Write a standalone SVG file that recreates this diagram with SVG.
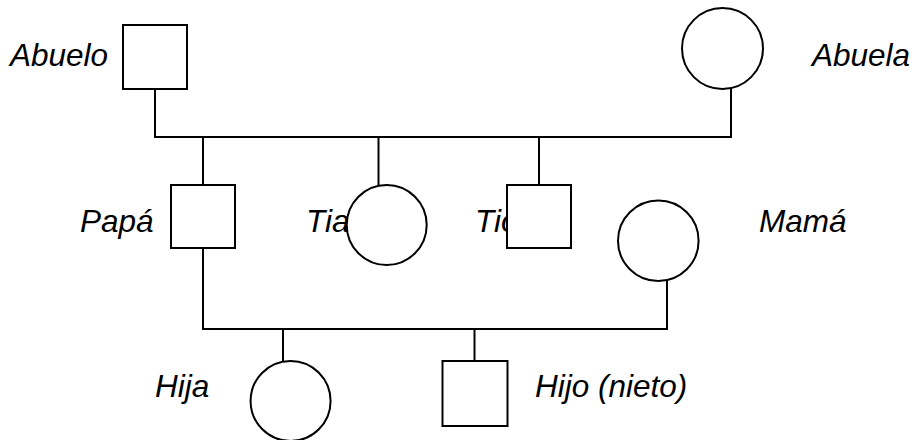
<svg xmlns="http://www.w3.org/2000/svg" width="915" height="440" viewBox="0 0 915 440">
<style>
.shape{fill:#fff;stroke:#000;stroke-width:2}
.conn{fill:none;stroke:#000;stroke-width:2}
.lbl{font-family:"Liberation Sans",Arial,sans-serif;font-style:italic;font-size:31.5px;fill:#000}
</style>
<rect width="915" height="440" fill="#fff"/>
<g id="connectors" class="conn">
<polyline points="155,89 155,137 731,137 731,88"/>
<line x1="203" y1="137" x2="203" y2="185"/>
<line x1="378.5" y1="137" x2="378.5" y2="186"/>
<line x1="539" y1="137" x2="539" y2="185"/>
<polyline points="203,248 203,329 667,329 667,280"/>
<line x1="283" y1="329" x2="283" y2="362"/>
<line x1="474.5" y1="329" x2="474.5" y2="361"/>
</g>
<g id="abuelo"><text class="lbl" x="10" y="66">Abuelo</text><rect class="shape" x="123" y="25" width="64" height="64"/></g>
<g id="abuela"><circle class="shape" cx="722.5" cy="48.5" r="40.5"/><text class="lbl" x="812" y="66">Abuela</text></g>
<g id="papa"><text class="lbl" x="80" y="232">Papá</text><rect class="shape" x="171" y="185" width="64" height="63"/></g>
<g id="tia"><text class="lbl" x="306" y="232">Tia</text><circle class="shape" cx="386.7" cy="225" r="40"/></g>
<g id="tio"><text class="lbl" x="475" y="232">Tio</text><rect class="shape" x="507" y="185" width="64" height="63"/></g>
<g id="mama"><circle class="shape" cx="658.3" cy="240.7" r="40.3"/><text class="lbl" x="759" y="232">Mamá</text></g>
<g id="hija"><text class="lbl" x="155" y="397">Hija</text><circle class="shape" cx="290.6" cy="401" r="40"/></g>
<g id="hijo"><rect class="shape" x="442.5" y="361" width="65" height="65"/><text class="lbl" x="535" y="397">Hijo (nieto)</text></g>
</svg>
